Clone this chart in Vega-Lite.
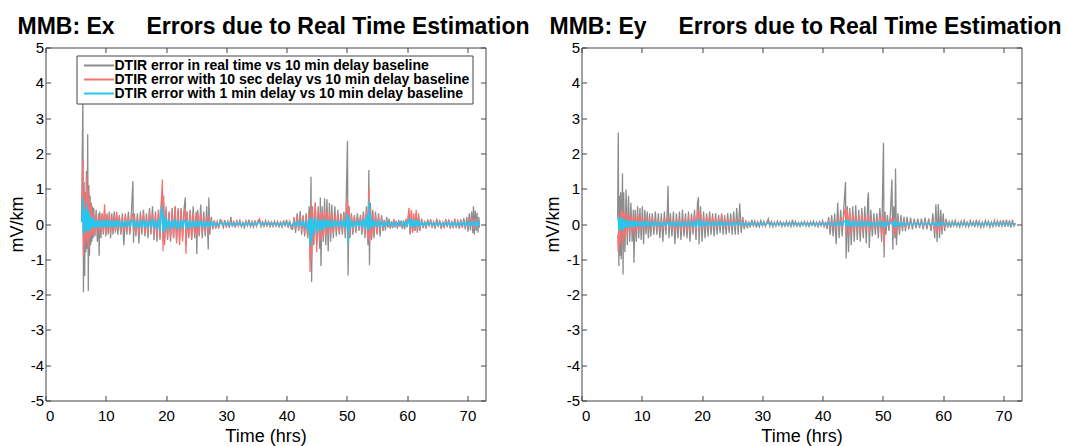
{
"$schema": "https://vega.github.io/schema/vega-lite/v6.json",
"background": "white",
"padding": {"left": 7.5, "top": 15.5, "right": 2, "bottom": 0},
"spacing": 96,
"bounds": "flush",
"config": {
  "view": {"stroke": null},
  "font": "Liberation Sans",
  "axis": {"domainColor": "#444", "tickColor": "#444", "tickSize": -5, "grid": false, "labelFont": "Liberation Sans", "labelFontSize": 15, "labelColor": "#000", "titleFont": "Liberation Sans", "titleFontSize": 18, "titleFontWeight": "normal", "titleColor": "#000", "domainWidth": 1, "tickWidth": 1, "labelExpr": "'' + datum.value"},
  "title": {"font": "Liberation Sans", "fontSize": 23, "fontWeight": "bold", "color": "#000", "anchor": "middle", "offset": 2},
  "legend": {"orient": "none", "legendX": 31, "legendY": 8, "title": null, "symbolType": "M-0.71,0H7.85", "symbolSize": 49, "symbolStrokeWidth": 2, "labelFont": "Liberation Sans", "labelFontSize": 14, "labelFontWeight": "bold", "labelColor": "#000", "labelLimit": 0, "labelOffset": 21, "strokeColor": "#444", "fillColor": "white", "padding": 3, "rowPadding": 0}
},
"datasets": {
"ex": [
{"t":6.0,"rt":0.1,"s10":0.1,"m1":0.05},{"t":6.1,"rt":2.0,"s10":1.0,"m1":0.5},{"t":6.2,"rt":3.6,"s10":1.83,"m1":0.75},{"t":6.3,"rt":-1.93,"s10":-0.9,"m1":-0.3},{"t":6.4,"rt":1.2,"s10":0.9,"m1":0.45},{"t":6.5,"rt":-1.47,"s10":-0.6,"m1":-0.25},{"t":6.6,"rt":0.9,"s10":0.7,"m1":0.35},{"t":6.7,"rt":-0.8,"s10":-0.4,"m1":-0.2},{"t":6.8,"rt":1.5,"s10":1.4,"m1":0.6},{"t":6.9,"rt":-0.7,"s10":-0.5,"m1":-0.15},
{"t":7.0,"rt":2.54,"s10":1.0,"m1":0.4},{"t":7.1,"rt":-1.9,"s10":-0.7,"m1":-0.25},{"t":7.2,"rt":1.1,"s10":0.8,"m1":0.35},{"t":7.3,"rt":-0.9,"s10":-0.4,"m1":-0.2},{"t":7.4,"rt":0.8,"s10":0.6,"m1":0.25},{"t":7.5,"rt":-0.6,"s10":-0.35,"m1":-0.15},{"t":7.6,"rt":0.6,"s10":0.5,"m1":0.2},{"t":7.7,"rt":-0.5,"s10":-0.3,"m1":-0.1},{"t":7.8,"rt":0.5,"s10":0.35,"m1":0.2},{"t":7.9,"rt":-0.4,"s10":-0.25,"m1":-0.1},
{"t":8.0,"rt":0.45,"s10":0.3,"m1":0.15},{"t":8.2,"rt":-0.35,"s10":-0.3,"m1":-0.12},{"t":8.4,"rt":0.4,"s10":0.25,"m1":0.1},{"t":8.6,"rt":-0.5,"s10":-0.2,"m1":-0.1},{"t":8.8,"rt":0.3,"s10":0.2,"m1":0.12},{"t":8.9,"rt":-0.9,"s10":-0.3,"m1":-0.1},{"t":9.0,"rt":0.35,"s10":0.25,"m1":0.1},{"t":9.2,"rt":-0.4,"s10":-0.2,"m1":-0.12},{"t":9.4,"rt":0.3,"s10":0.3,"m1":0.1},{"t":9.6,"rt":-0.3,"s10":-0.2,"m1":-0.08},{"t":9.8,"rt":0.4,"s10":0.56,"m1":0.15},
{"t":10.0,"rt":-0.35,"s10":-0.3,"m1":-0.1},{"t":10.2,"rt":0.3,"s10":0.25,"m1":0.1},{"t":10.4,"rt":-0.3,"s10":-0.2,"m1":-0.1},{"t":10.6,"rt":0.35,"s10":0.3,"m1":0.12},{"t":10.8,"rt":-0.4,"s10":-0.25,"m1":-0.1},{"t":11.0,"rt":0.3,"s10":0.2,"m1":0.1},{"t":11.2,"rt":-0.3,"s10":-0.2,"m1":-0.08},{"t":11.4,"rt":0.35,"s10":0.25,"m1":0.1},{"t":11.6,"rt":-0.25,"s10":-0.2,"m1":-0.1},{"t":11.8,"rt":0.3,"s10":0.35,"m1":0.12},
{"t":12.0,"rt":-0.3,"s10":-0.15,"m1":-0.08},{"t":12.25,"rt":0.25,"s10":0.2,"m1":0.1},{"t":12.5,"rt":-0.3,"s10":-0.25,"m1":-0.1},{"t":12.75,"rt":0.3,"s10":0.2,"m1":0.08},{"t":13.0,"rt":-0.6,"s10":-0.2,"m1":-0.1},{"t":13.25,"rt":0.25,"s10":0.3,"m1":0.1},{"t":13.5,"rt":-0.3,"s10":-0.2,"m1":-0.08},{"t":13.75,"rt":0.35,"s10":0.2,"m1":0.1},{"t":14.0,"rt":-0.3,"s10":-0.25,"m1":-0.1},{"t":14.25,"rt":0.3,"s10":0.2,"m1":0.1},{"t":14.5,"rt":1.22,"s10":0.3,"m1":0.12},{"t":14.6,"rt":-0.53,"s10":-0.2,"m1":-0.1},{"t":14.75,"rt":0.3,"s10":0.2,"m1":0.08},
{"t":15.0,"rt":-0.35,"s10":-0.25,"m1":-0.1},{"t":15.25,"rt":0.3,"s10":0.2,"m1":0.1},{"t":15.5,"rt":-0.55,"s10":-0.3,"m1":-0.12},{"t":15.75,"rt":0.35,"s10":0.25,"m1":0.1},{"t":16.0,"rt":-0.3,"s10":-0.2,"m1":-0.1},{"t":16.25,"rt":0.4,"s10":0.3,"m1":0.12},{"t":16.5,"rt":-0.35,"s10":-0.25,"m1":-0.1},{"t":16.75,"rt":0.3,"s10":0.2,"m1":0.1},{"t":17.0,"rt":-0.4,"s10":-0.3,"m1":-0.12},{"t":17.25,"rt":0.45,"s10":0.35,"m1":0.12},{"t":17.5,"rt":-0.3,"s10":-0.2,"m1":-0.1},{"t":17.75,"rt":0.5,"s10":0.3,"m1":0.15},
{"t":18.0,"rt":-0.45,"s10":-0.3,"m1":-0.12},{"t":18.25,"rt":0.35,"s10":0.25,"m1":0.1},{"t":18.5,"rt":-0.5,"s10":-0.35,"m1":-0.15},{"t":18.75,"rt":0.4,"s10":0.4,"m1":0.15},{"t":19.0,"rt":-0.4,"s10":-0.45,"m1":-0.2},{"t":19.2,"rt":0.5,"s10":0.6,"m1":0.4},{"t":19.4,"rt":0.86,"s10":1.26,"m1":0.5},{"t":19.5,"rt":-0.5,"s10":-0.77,"m1":-0.25},{"t":19.6,"rt":0.6,"s10":0.8,"m1":0.3},{"t":19.75,"rt":-0.55,"s10":-0.6,"m1":-0.2},
{"t":20.0,"rt":0.4,"s10":0.5,"m1":0.2},{"t":20.25,"rt":-0.45,"s10":-0.4,"m1":-0.15},{"t":20.5,"rt":0.35,"s10":0.3,"m1":0.12},{"t":20.75,"rt":-0.5,"s10":-0.35,"m1":-0.15},{"t":21.0,"rt":0.45,"s10":0.35,"m1":0.12},{"t":21.25,"rt":-0.4,"s10":-0.4,"m1":-0.12},{"t":21.5,"rt":0.5,"s10":0.5,"m1":0.15},{"t":21.75,"rt":-0.45,"s10":-0.55,"m1":-0.15},{"t":22.0,"rt":0.4,"s10":0.45,"m1":0.12},{"t":22.25,"rt":-0.4,"s10":-0.6,"m1":-0.15},{"t":22.5,"rt":0.45,"s10":0.4,"m1":0.12},{"t":22.75,"rt":-0.35,"s10":-0.5,"m1":-0.12},
{"t":23.0,"rt":0.45,"s10":0.35,"m1":0.1},{"t":23.2,"rt":0.75,"s10":0.4,"m1":0.12},{"t":23.3,"rt":-0.6,"s10":-0.85,"m1":-0.15},{"t":23.5,"rt":0.35,"s10":0.3,"m1":0.1},{"t":23.75,"rt":-0.4,"s10":-0.35,"m1":-0.12},{"t":24.0,"rt":0.4,"s10":0.35,"m1":0.1},{"t":24.25,"rt":-0.45,"s10":-0.4,"m1":-0.1},{"t":24.5,"rt":0.5,"s10":0.3,"m1":0.1},{"t":24.75,"rt":-0.4,"s10":-0.3,"m1":-0.1},
{"t":25.0,"rt":0.35,"s10":0.25,"m1":0.08},{"t":25.1,"rt":-0.85,"s10":-0.35,"m1":-0.1},{"t":25.25,"rt":0.4,"s10":0.3,"m1":0.1},{"t":25.5,"rt":-0.35,"s10":-0.25,"m1":-0.08},{"t":25.75,"rt":0.55,"s10":0.3,"m1":0.1},{"t":26.0,"rt":-0.4,"s10":-0.25,"m1":-0.1},{"t":26.25,"rt":0.35,"s10":0.2,"m1":0.08},{"t":26.5,"rt":-0.35,"s10":-0.2,"m1":-0.08},{"t":26.75,"rt":0.5,"s10":0.2,"m1":0.08},{"t":27.0,"rt":-0.72,"s10":-0.3,"m1":-0.1},{"t":27.1,"rt":0.75,"s10":0.25,"m1":0.08},{"t":27.25,"rt":-0.3,"s10":-0.15,"m1":-0.06},
{"t":27.5,"rt":0.2,"s10":0.12,"m1":0.05},{"t":27.75,"rt":-0.15,"s10":-0.12,"m1":-0.05},{"t":28.0,"rt":0.09,"s10":0.1,"m1":0.04},{"t":28.25,"rt":-0.13,"s10":-0.06,"m1":-0.04},{"t":28.5,"rt":0.05,"s10":0.08,"m1":0.02},{"t":28.75,"rt":-0.12,"s10":-0.1,"m1":-0.04},{"t":29.0,"rt":0.14,"s10":0.05,"m1":0.04},{"t":29.25,"rt":0.02,"s10":0.09,"m1":0.01},{"t":29.5,"rt":-0.1,"s10":-0.05,"m1":-0.03},{"t":29.75,"rt":0.11,"s10":0.07,"m1":0.04},
{"t":30.0,"rt":-0.06,"s10":-0.08,"m1":-0.02},{"t":30.25,"rt":0.08,"s10":0.03,"m1":0.03},{"t":30.5,"rt":-0.11,"s10":-0.07,"m1":-0.03},{"t":30.75,"rt":0.2,"s10":0.1,"m1":0.04},{"t":31.0,"rt":-0.08,"s10":-0.04,"m1":-0.03},{"t":31.25,"rt":0.05,"s10":0.07,"m1":0.02},{"t":31.5,"rt":-0.1,"s10":-0.03,"m1":-0.03},{"t":31.75,"rt":0.09,"s10":0.06,"m1":0.03},
{"t":32.0,"rt":-0.04,"s10":-0.06,"m1":-0.01},{"t":32.25,"rt":0.1,"s10":0.04,"m1":0.03},{"t":32.5,"rt":-0.08,"s10":-0.06,"m1":-0.03},{"t":32.75,"rt":0.03,"s10":0.05,"m1":0.01},{"t":33.0,"rt":-0.1,"s10":-0.04,"m1":-0.03},{"t":33.25,"rt":0.08,"s10":0.07,"m1":0.03},{"t":33.5,"rt":-0.05,"s10":-0.03,"m1":-0.02},{"t":33.75,"rt":0.12,"s10":0.06,"m1":0.03},
{"t":34.0,"rt":-0.08,"s10":-0.05,"m1":-0.02},{"t":34.25,"rt":0.04,"s10":0.08,"m1":0.02},{"t":34.5,"rt":-0.09,"s10":-0.04,"m1":-0.03},{"t":34.75,"rt":0.1,"s10":0.06,"m1":0.03},{"t":35.0,"rt":-0.06,"s10":-0.05,"m1":-0.02},{"t":35.25,"rt":0.08,"s10":0.1,"m1":0.03},{"t":35.5,"rt":0.12,"s10":0.15,"m1":0.05},{"t":35.75,"rt":-0.07,"s10":-0.04,"m1":-0.02},
{"t":36.0,"rt":0.06,"s10":0.06,"m1":0.02},{"t":36.25,"rt":-0.09,"s10":-0.05,"m1":-0.03},{"t":36.5,"rt":0.1,"s10":0.04,"m1":0.03},{"t":36.75,"rt":-0.04,"s10":-0.06,"m1":-0.01},{"t":37.0,"rt":0.07,"s10":0.05,"m1":0.02},{"t":37.25,"rt":-0.08,"s10":-0.03,"m1":-0.02},{"t":37.5,"rt":0.05,"s10":0.06,"m1":0.02},{"t":37.75,"rt":-0.07,"s10":-0.04,"m1":-0.02},
{"t":38.0,"rt":0.08,"s10":0.05,"m1":0.02},{"t":38.25,"rt":-0.05,"s10":-0.05,"m1":-0.02},{"t":38.5,"rt":0.07,"s10":0.03,"m1":0.02},{"t":38.75,"rt":-0.08,"s10":-0.05,"m1":-0.02},{"t":39.0,"rt":0.04,"s10":0.06,"m1":0.01},{"t":39.25,"rt":-0.09,"s10":-0.04,"m1":-0.03},{"t":39.5,"rt":0.1,"s10":0.07,"m1":0.03},{"t":39.75,"rt":-0.06,"s10":-0.05,"m1":-0.02},
{"t":40.0,"rt":0.12,"s10":0.06,"m1":0.03},{"t":40.25,"rt":-0.1,"s10":-0.07,"m1":-0.03},{"t":40.5,"rt":0.08,"s10":0.08,"m1":0.03},{"t":40.75,"rt":-0.14,"s10":-0.06,"m1":-0.04},
{"t":41.0,"rt":-0.15,"s10":-0.1,"m1":-0.04},{"t":41.25,"rt":0.2,"s10":0.15,"m1":0.05},{"t":41.5,"rt":-0.25,"s10":-0.12,"m1":-0.05},{"t":41.75,"rt":0.3,"s10":0.2,"m1":0.06},{"t":42.0,"rt":-0.2,"s10":-0.15,"m1":-0.05},{"t":42.25,"rt":0.37,"s10":0.25,"m1":0.08},{"t":42.5,"rt":-0.3,"s10":-0.2,"m1":-0.06},{"t":42.75,"rt":0.25,"s10":0.2,"m1":0.06},
{"t":43.0,"rt":-0.35,"s10":-0.25,"m1":-0.1},{"t":43.25,"rt":0.3,"s10":0.25,"m1":0.1},{"t":43.5,"rt":-0.4,"s10":-0.35,"m1":-0.2},{"t":43.75,"rt":0.5,"s10":0.3,"m1":0.15},{"t":43.9,"rt":-1.0,"s10":-1.36,"m1":-0.63},{"t":44.05,"rt":1.34,"s10":0.5,"m1":0.2},{"t":44.15,"rt":-1.64,"s10":-1.0,"m1":-0.5},{"t":44.3,"rt":0.5,"s10":0.4,"m1":0.15},{"t":44.5,"rt":-0.6,"s10":-0.55,"m1":-0.3},{"t":44.75,"rt":0.61,"s10":0.61,"m1":0.2},
{"t":45.0,"rt":-0.55,"s10":-0.8,"m1":-0.25},{"t":45.25,"rt":0.5,"s10":0.4,"m1":0.15},{"t":45.5,"rt":-0.7,"s10":-0.5,"m1":-0.2},{"t":45.6,"rt":0.75,"s10":0.35,"m1":0.12},{"t":45.7,"rt":-1.19,"s10":-0.45,"m1":-0.2},{"t":45.9,"rt":0.5,"s10":0.3,"m1":0.12},{"t":46.1,"rt":-0.5,"s10":-0.35,"m1":-0.15},{"t":46.3,"rt":0.73,"s10":0.4,"m1":0.15},{"t":46.5,"rt":-0.6,"s10":-0.3,"m1":-0.12},{"t":46.7,"rt":0.7,"s10":0.35,"m1":0.12},{"t":46.9,"rt":-0.77,"s10":-0.3,"m1":-0.12},
{"t":47.1,"rt":0.6,"s10":0.3,"m1":0.12},{"t":47.3,"rt":-0.5,"s10":-0.25,"m1":-0.1},{"t":47.5,"rt":0.55,"s10":0.3,"m1":0.1},{"t":47.75,"rt":-0.4,"s10":-0.25,"m1":-0.1},{"t":48.0,"rt":0.5,"s10":0.25,"m1":0.1},{"t":48.25,"rt":-0.35,"s10":-0.2,"m1":-0.08},{"t":48.5,"rt":0.4,"s10":0.3,"m1":0.1},{"t":48.75,"rt":-0.3,"s10":-0.2,"m1":-0.08},{"t":49.0,"rt":0.3,"s10":0.25,"m1":0.1},{"t":49.25,"rt":-0.3,"s10":-0.2,"m1":-0.1},{"t":49.5,"rt":0.35,"s10":0.3,"m1":0.15},{"t":49.75,"rt":-0.4,"s10":-0.3,"m1":-0.15},
{"t":50.1,"rt":2.35,"s10":0.7,"m1":0.3},{"t":50.2,"rt":-1.46,"s10":-0.6,"m1":-0.58},{"t":50.35,"rt":0.5,"s10":0.5,"m1":0.2},{"t":50.5,"rt":-0.4,"s10":-0.35,"m1":-0.15},{"t":50.75,"rt":0.3,"s10":0.25,"m1":0.1},{"t":51.0,"rt":-0.3,"s10":-0.2,"m1":-0.1},{"t":51.25,"rt":0.25,"s10":0.2,"m1":0.08},{"t":51.5,"rt":-0.25,"s10":-0.18,"m1":-0.08},{"t":51.75,"rt":0.3,"s10":0.2,"m1":0.08},
{"t":52.0,"rt":-0.2,"s10":-0.15,"m1":-0.08},{"t":52.25,"rt":0.25,"s10":0.2,"m1":0.1},{"t":52.5,"rt":-0.3,"s10":-0.2,"m1":-0.1},{"t":52.75,"rt":0.35,"s10":0.3,"m1":0.15},{"t":53.0,"rt":-0.4,"s10":-0.3,"m1":-0.15},{"t":53.25,"rt":0.5,"s10":0.4,"m1":0.25},{"t":53.5,"rt":-0.6,"s10":-0.45,"m1":-0.2},{"t":53.65,"rt":1.53,"s10":1.03,"m1":0.65},{"t":53.75,"rt":-1.17,"s10":-0.5,"m1":-0.15},{"t":53.9,"rt":0.6,"s10":0.45,"m1":0.3},
{"t":54.1,"rt":-0.45,"s10":-0.35,"m1":-0.1},{"t":54.3,"rt":0.4,"s10":0.3,"m1":0.12},{"t":54.5,"rt":-0.4,"s10":-0.3,"m1":-0.1},{"t":54.75,"rt":0.35,"s10":0.25,"m1":0.1},{"t":55.0,"rt":-0.3,"s10":-0.25,"m1":-0.08},{"t":55.25,"rt":0.3,"s10":0.2,"m1":0.08},{"t":55.5,"rt":-0.35,"s10":-0.2,"m1":-0.08},{"t":55.75,"rt":0.25,"s10":0.18,"m1":0.06},
{"t":56.0,"rt":-0.2,"s10":-0.15,"m1":-0.06},{"t":56.2,"rt":0.12,"s10":0.1,"m1":0.04},{"t":56.4,"rt":-0.18,"s10":-0.08,"m1":-0.05},{"t":56.6,"rt":0.2,"s10":0.12,"m1":0.05},{"t":56.8,"rt":-0.08,"s10":-0.1,"m1":-0.03},{"t":57.0,"rt":0.15,"s10":0.06,"m1":0.04},{"t":57.2,"rt":-0.14,"s10":-0.1,"m1":-0.04},{"t":57.4,"rt":0.06,"s10":0.08,"m1":0.02},{"t":57.6,"rt":-0.12,"s10":-0.05,"m1":-0.04},{"t":57.8,"rt":0.14,"s10":0.1,"m1":0.04},
{"t":58.0,"rt":-0.1,"s10":-0.06,"m1":-0.03},{"t":58.2,"rt":0.08,"s10":0.09,"m1":0.03},{"t":58.4,"rt":-0.13,"s10":-0.07,"m1":-0.03},{"t":58.6,"rt":0.12,"s10":0.05,"m1":0.04},{"t":58.8,"rt":-0.06,"s10":-0.08,"m1":-0.02},{"t":59.0,"rt":0.1,"s10":0.06,"m1":0.03},{"t":59.2,"rt":-0.14,"s10":-0.09,"m1":-0.04},{"t":59.4,"rt":0.09,"s10":0.1,"m1":0.05},{"t":59.6,"rt":-0.15,"s10":-0.08,"m1":-0.04},{"t":59.8,"rt":0.15,"s10":0.12,"m1":0.05},{"t":60.0,"rt":-0.1,"s10":-0.05,"m1":-0.03},
{"t":60.3,"rt":0.3,"s10":0.46,"m1":0.15},{"t":60.5,"rt":-0.3,"s10":-0.26,"m1":-0.1},{"t":60.7,"rt":0.35,"s10":0.4,"m1":0.15},{"t":60.9,"rt":-0.25,"s10":-0.25,"m1":-0.1},{"t":61.1,"rt":0.2,"s10":0.3,"m1":0.12},{"t":61.3,"rt":-0.2,"s10":-0.2,"m1":-0.08},{"t":61.5,"rt":0.3,"s10":0.4,"m1":0.12},{"t":61.7,"rt":-0.25,"s10":-0.2,"m1":-0.08},{"t":61.9,"rt":0.2,"s10":0.3,"m1":0.1},{"t":62.1,"rt":-0.2,"s10":-0.15,"m1":-0.06},
{"t":62.4,"rt":0.15,"s10":0.12,"m1":0.05},{"t":62.65,"rt":-0.12,"s10":-0.1,"m1":-0.04},{"t":62.9,"rt":0.08,"s10":0.06,"m1":0.03},{"t":63.15,"rt":-0.13,"s10":-0.08,"m1":-0.04},{"t":63.4,"rt":0.12,"s10":0.1,"m1":0.04},{"t":63.65,"rt":-0.06,"s10":-0.05,"m1":-0.02},{"t":63.9,"rt":0.14,"s10":0.08,"m1":0.04},{"t":64.15,"rt":-0.1,"s10":-0.1,"m1":-0.03},{"t":64.4,"rt":0.07,"s10":0.06,"m1":0.02},{"t":64.65,"rt":-0.13,"s10":-0.07,"m1":-0.04},
{"t":64.9,"rt":0.15,"s10":0.1,"m1":0.04},{"t":65.15,"rt":-0.08,"s10":-0.05,"m1":-0.03},{"t":65.4,"rt":0.1,"s10":0.09,"m1":0.03},{"t":65.65,"rt":-0.14,"s10":-0.08,"m1":-0.04},{"t":65.9,"rt":0.06,"s10":0.05,"m1":0.02},{"t":66.15,"rt":-0.11,"s10":-0.09,"m1":-0.03},{"t":66.4,"rt":0.14,"s10":0.08,"m1":0.04},{"t":66.65,"rt":-0.09,"s10":-0.05,"m1":-0.03},{"t":66.9,"rt":0.12,"s10":0.1,"m1":0.04},{"t":67.15,"rt":-0.13,"s10":-0.07,"m1":-0.04},
{"t":67.4,"rt":0.08,"s10":0.06,"m1":0.03},{"t":67.65,"rt":-0.1,"s10":-0.09,"m1":-0.03},{"t":67.9,"rt":0.15,"s10":0.08,"m1":0.04},{"t":68.15,"rt":-0.12,"s10":-0.06,"m1":-0.04},{"t":68.4,"rt":0.09,"s10":0.1,"m1":0.03},{"t":68.65,"rt":-0.14,"s10":-0.07,"m1":-0.04},{"t":68.9,"rt":0.13,"s10":0.08,"m1":0.04},{"t":69.15,"rt":-0.1,"s10":-0.1,"m1":-0.03},{"t":69.4,"rt":0.17,"s10":0.09,"m1":0.05},{"t":69.65,"rt":-0.15,"s10":-0.08,"m1":-0.04},
{"t":69.9,"rt":0.2,"s10":0.12,"m1":0.05},{"t":70.1,"rt":-0.22,"s10":-0.1,"m1":-0.04},{"t":70.3,"rt":0.3,"s10":0.14,"m1":0.05},{"t":70.5,"rt":-0.18,"s10":-0.09,"m1":-0.04},{"t":70.7,"rt":0.35,"s10":0.15,"m1":0.05},{"t":70.9,"rt":-0.26,"s10":-0.12,"m1":-0.05},{"t":71.0,"rt":0.5,"s10":0.15,"m1":0.06},{"t":71.15,"rt":-0.3,"s10":-0.12,"m1":-0.05},{"t":71.3,"rt":0.38,"s10":0.14,"m1":0.05},{"t":71.45,"rt":-0.2,"s10":-0.1,"m1":-0.04},{"t":71.6,"rt":0.32,"s10":0.15,"m1":0.05},{"t":71.75,"rt":-0.25,"s10":-0.1,"m1":-0.04},{"t":71.9,"rt":0.2,"s10":0.08,"m1":0.04},{"t":72.0,"rt":-0.1,"s10":-0.05,"m1":-0.02}
],
"ey": [
{"t":6.0,"rt":0.2,"s10":-0.3,"m1":0.15},{"t":6.1,"rt":2.59,"s10":-0.8,"m1":0.2},{"t":6.2,"rt":-1.19,"s10":0.3,"m1":-0.2},{"t":6.3,"rt":0.8,"s10":-0.6,"m1":0.15},{"t":6.4,"rt":-0.9,"s10":0.2,"m1":-0.15},{"t":6.5,"rt":0.9,"s10":-0.5,"m1":0.2},{"t":6.6,"rt":-1.0,"s10":0.3,"m1":-0.15},{"t":6.8,"rt":1.43,"s10":0.4,"m1":0.15},{"t":6.9,"rt":-1.43,"s10":-0.6,"m1":-0.2},
{"t":7.0,"rt":0.9,"s10":0.3,"m1":0.15},{"t":7.2,"rt":-0.8,"s10":-0.4,"m1":-0.12},{"t":7.4,"rt":0.98,"s10":0.35,"m1":0.12},{"t":7.6,"rt":-0.6,"s10":-0.3,"m1":-0.1},{"t":7.8,"rt":0.8,"s10":0.3,"m1":0.1},{"t":8.0,"rt":-0.5,"s10":-0.25,"m1":-0.1},{"t":8.2,"rt":0.6,"s10":0.25,"m1":0.1},{"t":8.4,"rt":-0.5,"s10":-0.2,"m1":-0.08},{"t":8.6,"rt":0.4,"s10":0.2,"m1":0.08},{"t":8.7,"rt":-1.1,"s10":-0.3,"m1":-0.1},{"t":8.9,"rt":0.4,"s10":0.2,"m1":0.08},
{"t":9.1,"rt":-0.5,"s10":-0.2,"m1":-0.08},{"t":9.3,"rt":0.5,"s10":0.3,"m1":0.08},{"t":9.5,"rt":-0.4,"s10":-0.2,"m1":-0.06},{"t":9.7,"rt":0.45,"s10":0.25,"m1":0.08},{"t":9.9,"rt":-0.45,"s10":-0.2,"m1":-0.06},{"t":10.1,"rt":0.5,"s10":0.2,"m1":0.06},{"t":10.3,"rt":-0.57,"s10":-0.15,"m1":-0.06},{"t":10.5,"rt":0.4,"s10":0.2,"m1":0.06},{"t":10.7,"rt":-0.3,"s10":-0.15,"m1":-0.05},{"t":10.9,"rt":0.35,"s10":0.2,"m1":0.06},
{"t":11.1,"rt":-0.4,"s10":-0.15,"m1":-0.05},{"t":11.3,"rt":0.3,"s10":0.15,"m1":0.05},{"t":11.5,"rt":-0.35,"s10":-0.15,"m1":-0.05},{"t":11.75,"rt":0.3,"s10":0.18,"m1":0.05},{"t":12.0,"rt":-0.3,"s10":-0.12,"m1":-0.05},{"t":12.25,"rt":0.35,"s10":0.15,"m1":0.05},{"t":12.5,"rt":-0.3,"s10":-0.15,"m1":-0.05},{"t":12.75,"rt":0.3,"s10":0.12,"m1":0.05},
{"t":13.0,"rt":-0.4,"s10":-0.15,"m1":-0.05},{"t":13.25,"rt":0.3,"s10":0.12,"m1":0.04},{"t":13.5,"rt":-0.5,"s10":-0.15,"m1":-0.05},{"t":13.75,"rt":0.35,"s10":0.15,"m1":0.05},{"t":14.0,"rt":-0.3,"s10":-0.12,"m1":-0.04},{"t":14.25,"rt":0.4,"s10":0.15,"m1":0.05},{"t":14.35,"rt":1.08,"s10":0.2,"m1":0.06},{"t":14.5,"rt":-0.4,"s10":-0.12,"m1":-0.05},{"t":14.75,"rt":0.3,"s10":0.12,"m1":0.04},
{"t":15.0,"rt":-0.35,"s10":-0.15,"m1":-0.05},{"t":15.25,"rt":0.35,"s10":0.15,"m1":0.05},{"t":15.5,"rt":-0.57,"s10":-0.2,"m1":-0.06},{"t":15.75,"rt":0.3,"s10":0.15,"m1":0.05},{"t":16.0,"rt":-0.4,"s10":-0.15,"m1":-0.05},{"t":16.25,"rt":0.35,"s10":0.15,"m1":0.05},{"t":16.5,"rt":-0.45,"s10":-0.2,"m1":-0.06},{"t":16.75,"rt":0.4,"s10":0.15,"m1":0.05},
{"t":17.0,"rt":-0.35,"s10":-0.15,"m1":-0.05},{"t":17.25,"rt":0.3,"s10":0.15,"m1":0.05},{"t":17.5,"rt":-0.4,"s10":-0.2,"m1":-0.05},{"t":17.75,"rt":0.35,"s10":0.2,"m1":0.05},{"t":18.0,"rt":-0.5,"s10":-0.2,"m1":-0.06},{"t":18.25,"rt":0.3,"s10":0.2,"m1":0.06},{"t":18.5,"rt":-0.3,"s10":-0.15,"m1":-0.05},{"t":18.75,"rt":0.4,"s10":0.25,"m1":0.08},
{"t":19.0,"rt":-0.45,"s10":-0.2,"m1":-0.1},{"t":19.25,"rt":0.6,"s10":0.35,"m1":0.1},{"t":19.4,"rt":0.76,"s10":0.4,"m1":0.12},{"t":19.5,"rt":-0.57,"s10":-0.2,"m1":-0.1},{"t":19.75,"rt":0.5,"s10":0.3,"m1":0.08},{"t":20.0,"rt":-0.5,"s10":-0.15,"m1":-0.06},{"t":20.25,"rt":0.35,"s10":0.2,"m1":0.06},{"t":20.5,"rt":-0.4,"s10":-0.15,"m1":-0.05},{"t":20.75,"rt":0.3,"s10":0.2,"m1":0.06},
{"t":21.0,"rt":-0.35,"s10":-0.12,"m1":-0.05},{"t":21.25,"rt":0.35,"s10":0.25,"m1":0.06},{"t":21.5,"rt":-0.3,"s10":-0.12,"m1":-0.04},{"t":21.75,"rt":0.3,"s10":0.2,"m1":0.05},{"t":22.0,"rt":-0.35,"s10":-0.12,"m1":-0.04},{"t":22.25,"rt":0.3,"s10":0.18,"m1":0.05},{"t":22.5,"rt":-0.3,"s10":-0.12,"m1":-0.04},{"t":22.75,"rt":0.25,"s10":0.15,"m1":0.05},
{"t":23.0,"rt":-0.25,"s10":-0.1,"m1":-0.04},{"t":23.25,"rt":0.3,"s10":0.25,"m1":0.06},{"t":23.5,"rt":-0.3,"s10":-0.1,"m1":-0.04},{"t":23.75,"rt":0.25,"s10":0.15,"m1":0.05},{"t":24.0,"rt":-0.3,"s10":-0.1,"m1":-0.04},{"t":24.25,"rt":0.3,"s10":0.15,"m1":0.04},{"t":24.5,"rt":-0.25,"s10":-0.1,"m1":-0.04},{"t":24.75,"rt":0.3,"s10":0.15,"m1":0.04},
{"t":25.0,"rt":-0.3,"s10":-0.1,"m1":-0.04},{"t":25.25,"rt":0.35,"s10":0.15,"m1":0.05},{"t":25.5,"rt":-0.3,"s10":-0.1,"m1":-0.04},{"t":25.75,"rt":0.45,"s10":0.15,"m1":0.05},{"t":26.0,"rt":-0.3,"s10":-0.1,"m1":-0.04},{"t":26.25,"rt":0.58,"s10":0.12,"m1":0.04},{"t":26.5,"rt":-0.25,"s10":-0.08,"m1":-0.03},
{"t":26.75,"rt":0.2,"s10":0.1,"m1":0.04},{"t":27.0,"rt":-0.15,"s10":-0.07,"m1":-0.03},{"t":27.25,"rt":0.09,"s10":0.08,"m1":0.03},{"t":27.5,"rt":-0.12,"s10":-0.04,"m1":-0.03},{"t":27.75,"rt":0.06,"s10":0.06,"m1":0.02},{"t":28.0,"rt":-0.1,"s10":-0.05,"m1":-0.03},{"t":28.25,"rt":0.12,"s10":0.04,"m1":0.03},{"t":28.5,"rt":-0.04,"s10":-0.06,"m1":-0.01},{"t":28.75,"rt":0.09,"s10":0.05,"m1":0.02},
{"t":29.0,"rt":-0.1,"s10":-0.03,"m1":-0.03},{"t":29.25,"rt":0.05,"s10":0.06,"m1":0.02},{"t":29.5,"rt":-0.08,"s10":-0.04,"m1":-0.02},{"t":29.75,"rt":0.1,"s10":0.05,"m1":0.03},{"t":30.0,"rt":-0.05,"s10":-0.04,"m1":-0.02},{"t":30.25,"rt":0.08,"s10":0.03,"m1":0.02},{"t":30.5,"rt":-0.07,"s10":-0.05,"m1":-0.02},{"t":30.75,"rt":0.04,"s10":0.04,"m1":0.01},
{"t":31.0,"rt":0.15,"s10":0.06,"m1":0.03},{"t":31.25,"rt":-0.06,"s10":-0.03,"m1":-0.02},{"t":31.5,"rt":0.07,"s10":0.05,"m1":0.02},{"t":31.75,"rt":-0.08,"s10":-0.04,"m1":-0.02},{"t":32.0,"rt":0.05,"s10":0.03,"m1":0.01},{"t":32.25,"rt":-0.06,"s10":-0.05,"m1":-0.02},{"t":32.5,"rt":0.08,"s10":0.04,"m1":0.02},{"t":32.75,"rt":-0.04,"s10":-0.03,"m1":-0.01},
{"t":33.0,"rt":0.07,"s10":0.05,"m1":0.02},{"t":33.25,"rt":-0.07,"s10":-0.03,"m1":-0.02},{"t":33.5,"rt":0.04,"s10":0.04,"m1":0.01},{"t":33.75,"rt":-0.06,"s10":-0.04,"m1":-0.02},{"t":34.0,"rt":0.08,"s10":0.03,"m1":0.02},{"t":34.25,"rt":-0.05,"s10":-0.04,"m1":-0.01},{"t":34.5,"rt":0.06,"s10":0.05,"m1":0.02},{"t":34.75,"rt":-0.07,"s10":-0.03,"m1":-0.02},
{"t":35.0,"rt":0.12,"s10":0.05,"m1":0.02},{"t":35.25,"rt":-0.05,"s10":-0.04,"m1":-0.02},{"t":35.5,"rt":0.07,"s10":0.03,"m1":0.02},{"t":35.75,"rt":-0.06,"s10":-0.04,"m1":-0.01},{"t":36.0,"rt":0.04,"s10":0.04,"m1":0.01},{"t":36.25,"rt":-0.07,"s10":-0.03,"m1":-0.02},{"t":36.5,"rt":0.06,"s10":0.04,"m1":0.02},{"t":36.75,"rt":-0.04,"s10":-0.03,"m1":-0.01},
{"t":37.0,"rt":0.07,"s10":0.04,"m1":0.02},{"t":37.25,"rt":-0.06,"s10":-0.03,"m1":-0.02},{"t":37.5,"rt":0.05,"s10":0.04,"m1":0.01},{"t":37.75,"rt":-0.07,"s10":-0.03,"m1":-0.02},{"t":38.0,"rt":0.06,"s10":0.04,"m1":0.02},{"t":38.25,"rt":-0.04,"s10":-0.03,"m1":-0.01},{"t":38.5,"rt":0.08,"s10":0.04,"m1":0.02},{"t":38.75,"rt":-0.06,"s10":-0.04,"m1":-0.02},
{"t":39.0,"rt":0.05,"s10":0.03,"m1":0.01},{"t":39.25,"rt":-0.08,"s10":-0.04,"m1":-0.02},{"t":39.5,"rt":0.07,"s10":0.05,"m1":0.02},{"t":39.75,"rt":-0.05,"s10":-0.03,"m1":-0.02},{"t":40.0,"rt":0.1,"s10":0.05,"m1":0.02},{"t":40.25,"rt":-0.08,"s10":-0.04,"m1":-0.02},{"t":40.5,"rt":0.06,"s10":0.04,"m1":0.02},{"t":40.75,"rt":-0.15,"s10":-0.06,"m1":-0.02},
{"t":41.0,"rt":0.2,"s10":0.08,"m1":0.03},{"t":41.25,"rt":-0.3,"s10":-0.1,"m1":-0.03},{"t":41.5,"rt":0.25,"s10":0.1,"m1":0.04},{"t":41.75,"rt":-0.35,"s10":-0.12,"m1":-0.04},{"t":42.0,"rt":0.3,"s10":0.1,"m1":0.04},{"t":42.25,"rt":-0.57,"s10":-0.15,"m1":-0.05},{"t":42.5,"rt":0.61,"s10":0.15,"m1":0.05},{"t":42.75,"rt":-0.4,"s10":-0.12,"m1":-0.04},
{"t":43.0,"rt":0.4,"s10":0.15,"m1":0.05},{"t":43.25,"rt":-0.35,"s10":-0.15,"m1":-0.05},{"t":43.5,"rt":0.4,"s10":0.2,"m1":0.06},{"t":43.8,"rt":1.19,"s10":0.45,"m1":0.1},{"t":43.9,"rt":-0.98,"s10":-0.3,"m1":-0.08},{"t":44.1,"rt":0.5,"s10":0.4,"m1":0.12},{"t":44.3,"rt":-0.8,"s10":-0.25,"m1":-0.08},{"t":44.5,"rt":0.45,"s10":0.35,"m1":0.1},{"t":44.75,"rt":-0.6,"s10":-0.3,"m1":-0.06},
{"t":45.0,"rt":0.5,"s10":0.3,"m1":0.08},{"t":45.25,"rt":-0.5,"s10":-0.2,"m1":-0.06},{"t":45.5,"rt":0.53,"s10":0.25,"m1":0.06},{"t":45.75,"rt":-0.45,"s10":-0.15,"m1":-0.05},{"t":46.0,"rt":0.4,"s10":0.2,"m1":0.06},{"t":46.25,"rt":-0.5,"s10":-0.25,"m1":-0.06},{"t":46.5,"rt":0.45,"s10":0.3,"m1":0.08},{"t":46.75,"rt":-0.4,"s10":-0.2,"m1":-0.05},
{"t":47.0,"rt":0.5,"s10":0.2,"m1":0.06},{"t":47.25,"rt":-0.55,"s10":-0.2,"m1":-0.06},{"t":47.5,"rt":0.7,"s10":0.25,"m1":0.06},{"t":47.6,"rt":0.89,"s10":0.2,"m1":0.05},{"t":47.75,"rt":-0.68,"s10":-0.25,"m1":-0.06},{"t":48.0,"rt":0.4,"s10":0.15,"m1":0.05},{"t":48.25,"rt":-0.35,"s10":-0.15,"m1":-0.05},{"t":48.5,"rt":0.3,"s10":0.12,"m1":0.04},{"t":48.75,"rt":-0.3,"s10":-0.12,"m1":-0.05},
{"t":49.0,"rt":0.3,"s10":0.15,"m1":0.05},{"t":49.25,"rt":-0.4,"s10":-0.15,"m1":-0.05},{"t":49.5,"rt":0.45,"s10":0.2,"m1":0.06},{"t":49.8,"rt":-0.5,"s10":-0.3,"m1":-0.06},{"t":50.1,"rt":2.3,"s10":0.3,"m1":0.08},{"t":50.2,"rt":-0.95,"s10":-0.62,"m1":-0.1},{"t":50.35,"rt":0.35,"s10":0.15,"m1":0.05},{"t":50.5,"rt":-0.3,"s10":-0.1,"m1":-0.04},{"t":50.75,"rt":0.25,"s10":0.1,"m1":0.04},
{"t":51.0,"rt":-0.2,"s10":-0.08,"m1":-0.03},{"t":51.25,"rt":0.3,"s10":0.1,"m1":0.04},{"t":51.5,"rt":1.26,"s10":0.15,"m1":0.05},{"t":51.65,"rt":-0.72,"s10":-0.2,"m1":-0.05},{"t":51.8,"rt":0.5,"s10":0.15,"m1":0.06},{"t":52.0,"rt":-0.4,"s10":-0.3,"m1":-0.1},{"t":52.1,"rt":1.57,"s10":0.2,"m1":0.12},{"t":52.25,"rt":-0.6,"s10":-0.25,"m1":-0.08},{"t":52.5,"rt":0.3,"s10":0.15,"m1":0.06},{"t":52.75,"rt":-0.3,"s10":-0.12,"m1":-0.05},
{"t":53.0,"rt":0.25,"s10":0.1,"m1":0.04},{"t":53.25,"rt":-0.2,"s10":-0.1,"m1":-0.04},{"t":53.5,"rt":0.2,"s10":0.08,"m1":0.04},{"t":53.75,"rt":-0.2,"s10":-0.08,"m1":-0.03},{"t":54.0,"rt":0.2,"s10":0.08,"m1":0.03},{"t":54.3,"rt":-0.15,"s10":-0.06,"m1":-0.03},{"t":54.6,"rt":0.18,"s10":0.07,"m1":0.03},{"t":54.9,"rt":-0.15,"s10":-0.06,"m1":-0.03},
{"t":55.2,"rt":0.15,"s10":0.06,"m1":0.03},{"t":55.5,"rt":-0.12,"s10":-0.05,"m1":-0.02},{"t":55.8,"rt":0.15,"s10":0.05,"m1":0.02},{"t":56.1,"rt":-0.12,"s10":-0.05,"m1":-0.02},{"t":56.4,"rt":0.15,"s10":0.06,"m1":0.02},{"t":56.7,"rt":-0.15,"s10":-0.05,"m1":-0.02},{"t":57.0,"rt":0.18,"s10":0.06,"m1":0.03},{"t":57.3,"rt":-0.15,"s10":-0.06,"m1":-0.02},{"t":57.6,"rt":0.15,"s10":0.06,"m1":0.03},
{"t":58.0,"rt":-0.2,"s10":-0.1,"m1":-0.03},{"t":58.3,"rt":0.3,"s10":0.12,"m1":0.04},{"t":58.6,"rt":-0.4,"s10":-0.2,"m1":-0.04},{"t":58.8,"rt":0.56,"s10":0.15,"m1":0.05},{"t":59.0,"rt":-0.51,"s10":-0.25,"m1":-0.05},{"t":59.2,"rt":0.56,"s10":0.1,"m1":0.04},{"t":59.4,"rt":-0.4,"s10":-0.2,"m1":-0.04},{"t":59.6,"rt":0.4,"s10":0.1,"m1":0.04},{"t":59.8,"rt":-0.3,"s10":-0.15,"m1":-0.03},
{"t":60.0,"rt":0.3,"s10":0.08,"m1":0.03},{"t":60.25,"rt":-0.2,"s10":-0.08,"m1":-0.03},{"t":60.5,"rt":0.15,"s10":0.06,"m1":0.02},{"t":60.75,"rt":-0.1,"s10":-0.04,"m1":-0.02},{"t":61.0,"rt":0.06,"s10":0.05,"m1":0.02},{"t":61.25,"rt":-0.1,"s10":-0.03,"m1":-0.02},{"t":61.5,"rt":0.08,"s10":0.05,"m1":0.02},{"t":61.75,"rt":-0.05,"s10":-0.04,"m1":-0.01},
{"t":62.0,"rt":0.1,"s10":0.03,"m1":0.02},{"t":62.25,"rt":-0.07,"s10":-0.05,"m1":-0.02},{"t":62.5,"rt":0.04,"s10":0.04,"m1":0.01},{"t":62.75,"rt":-0.09,"s10":-0.03,"m1":-0.02},{"t":63.0,"rt":0.08,"s10":0.05,"m1":0.02},{"t":63.25,"rt":-0.05,"s10":-0.04,"m1":-0.02},{"t":63.5,"rt":0.1,"s10":0.04,"m1":0.02},{"t":63.75,"rt":-0.07,"s10":-0.03,"m1":-0.02},
{"t":64.0,"rt":0.05,"s10":0.05,"m1":0.01},{"t":64.25,"rt":-0.08,"s10":-0.04,"m1":-0.02},{"t":64.5,"rt":0.1,"s10":0.03,"m1":0.02},{"t":64.75,"rt":-0.04,"s10":-0.04,"m1":-0.01},{"t":65.0,"rt":0.07,"s10":0.05,"m1":0.02},{"t":65.25,"rt":-0.09,"s10":-0.03,"m1":-0.02},{"t":65.5,"rt":0.12,"s10":0.05,"m1":0.02},{"t":65.75,"rt":-0.06,"s10":-0.04,"m1":-0.02},
{"t":66.0,"rt":0.08,"s10":0.04,"m1":0.02},{"t":66.25,"rt":-0.1,"s10":-0.05,"m1":-0.02},{"t":66.5,"rt":0.05,"s10":0.03,"m1":0.01},{"t":66.75,"rt":-0.08,"s10":-0.04,"m1":-0.02},{"t":67.0,"rt":0.1,"s10":0.05,"m1":0.02},{"t":67.25,"rt":-0.05,"s10":-0.03,"m1":-0.01},{"t":67.5,"rt":0.08,"s10":0.04,"m1":0.02},{"t":67.75,"rt":-0.09,"s10":-0.05,"m1":-0.02},
{"t":68.0,"rt":0.06,"s10":0.03,"m1":0.02},{"t":68.25,"rt":-0.07,"s10":-0.04,"m1":-0.02},{"t":68.5,"rt":0.1,"s10":0.05,"m1":0.02},{"t":68.75,"rt":-0.05,"s10":-0.03,"m1":-0.01},{"t":69.0,"rt":0.09,"s10":0.04,"m1":0.02},{"t":69.25,"rt":-0.08,"s10":-0.05,"m1":-0.02},{"t":69.5,"rt":0.1,"s10":0.04,"m1":0.02},{"t":69.75,"rt":-0.06,"s10":-0.03,"m1":-0.02},
{"t":70.0,"rt":0.11,"s10":0.05,"m1":0.02},{"t":70.25,"rt":-0.08,"s10":-0.04,"m1":-0.02},{"t":70.5,"rt":0.12,"s10":0.05,"m1":0.02},{"t":70.75,"rt":-0.07,"s10":-0.04,"m1":-0.02},{"t":71.0,"rt":0.1,"s10":0.05,"m1":0.02},{"t":71.25,"rt":-0.1,"s10":-0.04,"m1":-0.02},{"t":71.5,"rt":0.12,"s10":0.05,"m1":0.02},{"t":71.75,"rt":-0.06,"s10":-0.03,"m1":-0.01},{"t":72.0,"rt":0.02,"s10":0.02,"m1":0.01}
]
},
"hconcat": [
{
  "width": 440, "height": 353,
  "title": {"text": "MMB: Ex\u00a0\u00a0\u00a0\u00a0\u00a0Errors due to Real Time Estimation", "dx": 8},
  "data": {"name": "ex"},
  "layer": [
    {"mark": {"type": "line", "strokeWidth": 1.3},
     "encoding": {
       "x": {"field": "t", "type": "quantitative", "scale": {"domain": [0, 73], "nice": false, "zero": false}, "axis": {"orient": "bottom", "values": [0,10,20,30,40,50,60,70], "title": "Time (hrs)", "labelPadding": 12.5, "titlePadding": 4}},
       "y": {"field": "rt", "type": "quantitative", "scale": {"domain": [-5, 5], "nice": false}, "axis": {"orient": "left", "values": [-5,-4,-3,-2,-1,0,1,2,3,4,5], "title": "mV/km", "labelPadding": 7, "titlePadding": 4}},
       "color": {"datum": "DTIR error in real time vs 10 min delay baseline", "type": "nominal", "scale": {"domain": ["DTIR error in real time vs 10 min delay baseline", "DTIR error with 10 sec delay vs 10 min delay baseline", "DTIR error with 1 min delay vs 10 min delay baseline"], "range": ["#8c8c8c", "#f57373", "#26c6ee"]}}
     }},
    {"mark": {"type": "line", "strokeWidth": 1.3},
     "encoding": {
       "x": {"field": "t", "type": "quantitative", "axis": null},
       "y": {"field": "s10", "type": "quantitative", "axis": null},
       "color": {"datum": "DTIR error with 10 sec delay vs 10 min delay baseline", "type": "nominal"}
     }},
    {"mark": {"type": "line", "strokeWidth": 1.5},
     "encoding": {
       "x": {"field": "t", "type": "quantitative", "axis": null},
       "y": {"field": "m1", "type": "quantitative", "axis": null},
       "color": {"datum": "DTIR error with 1 min delay vs 10 min delay baseline", "type": "nominal"}
     }},
    {"mark": {"type": "point", "opacity": 0},
     "encoding": {
       "x": {"field": "t", "type": "quantitative", "axis": {"orient": "top", "values": [0,10,20,30,40,50,60,70], "labels": false, "title": null}},
       "y": {"field": "rt", "type": "quantitative", "axis": {"orient": "right", "values": [-5,-4,-3,-2,-1,0,1,2,3,4,5], "labels": false, "title": null}}
     }}
  ],
  "resolve": {"axis": {"x": "independent", "y": "independent"}}
},
{
  "width": 440, "height": 353,
  "title": {"text": "MMB: Ey\u00a0\u00a0\u00a0\u00a0\u00a0Errors due to Real Time Estimation", "dx": 4},
  "data": {"name": "ey"},
  "layer": [
    {"mark": {"type": "line", "strokeWidth": 1.3},
     "encoding": {
       "x": {"field": "t", "type": "quantitative", "scale": {"domain": [0, 73], "nice": false, "zero": false}, "axis": {"orient": "bottom", "values": [0,10,20,30,40,50,60,70], "title": "Time (hrs)", "labelPadding": 12.5, "titlePadding": 4}},
       "y": {"field": "rt", "type": "quantitative", "scale": {"domain": [-5, 5], "nice": false}, "axis": {"orient": "left", "values": [-5,-4,-3,-2,-1,0,1,2,3,4,5], "title": "mV/km", "labelPadding": 7, "titlePadding": 4}},
       "color": {"datum": "DTIR error in real time vs 10 min delay baseline", "type": "nominal", "scale": {"domain": ["DTIR error in real time vs 10 min delay baseline", "DTIR error with 10 sec delay vs 10 min delay baseline", "DTIR error with 1 min delay vs 10 min delay baseline"], "range": ["#8c8c8c", "#f57373", "#26c6ee"]}}
     }},
    {"mark": {"type": "line", "strokeWidth": 1.3},
     "encoding": {
       "x": {"field": "t", "type": "quantitative", "axis": null},
       "y": {"field": "s10", "type": "quantitative", "axis": null},
       "color": {"datum": "DTIR error with 10 sec delay vs 10 min delay baseline", "type": "nominal"}
     }},
    {"mark": {"type": "line", "strokeWidth": 1.5},
     "encoding": {
       "x": {"field": "t", "type": "quantitative", "axis": null},
       "y": {"field": "m1", "type": "quantitative", "axis": null},
       "color": {"datum": "DTIR error with 1 min delay vs 10 min delay baseline", "type": "nominal"}
     }},
    {"mark": {"type": "point", "opacity": 0},
     "encoding": {
       "x": {"field": "t", "type": "quantitative", "axis": {"orient": "top", "values": [0,10,20,30,40,50,60,70], "labels": false, "title": null}},
       "y": {"field": "rt", "type": "quantitative", "axis": {"orient": "right", "values": [-5,-4,-3,-2,-1,0,1,2,3,4,5], "labels": false, "title": null}}
     }}
  ],
  "resolve": {"axis": {"x": "independent", "y": "independent"}}
}
]
}
